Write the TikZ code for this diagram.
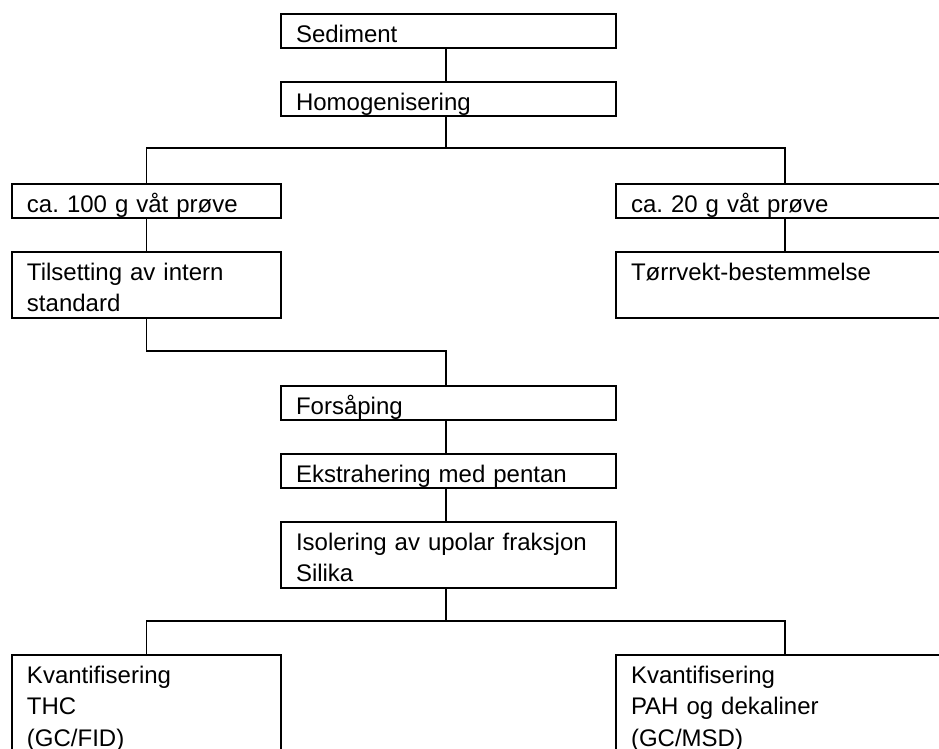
\documentclass[tikz,border=0pt]{standalone}
\usepackage{fontspec}
\setmainfont{Liberation Sans}
\frenchspacing
\begin{document}
\begin{tikzpicture}[x = 1pt, y = -1pt, line width = 1.7pt,
	box/.style = { draw, line width = 2pt, anchor = north west, inner xsep = 15pt, inner ysep = 0pt, align = left, text height = 28pt, text depth = 6pt, font = \fontsize{24}{31.5}\selectfont },
	mid/.style = { box, text width = 305pt },
	side/.style = { box, text width = 239pt },
	wide/.style = { box, text width = 308pt }]
				\clip (0,0) rectangle (939,748);
				\node[mid] (sed) at (280,13) {Sediment};
				\node[mid] (hom) at (280,81) {Homogenisering};
				\node[side] (vp100) at (11,183) {ca. 100 g våt prøve};
				\node[wide] (vp20) at (615,183) {ca. 20 g våt prøve};
				\node[side, text depth = 38pt] (tils) at (11,251) {Tilsetting av intern \\ standard};
				\node[wide, text depth = 38pt] (tv) at (615,251) {Tørrvekt-bestemmelse};
				\node[mid] (fors) at (280,385) {Forsåping};
				\node[mid] (ekstr) at (280,453) {Ekstrahering med pentan};
				\node[mid, text depth = 38pt] (iso) at (280,521) {Isolering av upolar fraksjon \\ Silika};
				\node[side, text depth = 120pt] (thc) at (11,654) {Kvantifisering \\ THC \\ (GC/FID)};
				\node[wide, text depth = 120pt] (pah) at (615,654) {Kvantifisering \\ PAH og dekaliner \\ (GC/MSD)};
				\coordinate (s1) at (446,148);
				\coordinate (s2) at (446,351);
				\coordinate (s3) at (446,621);
				\draw (sed.south -| s1) -- (hom.north -| s1);
				\draw (hom.south -| s1) -- (s1);
				\draw (vp100) |- (s1) -| (vp20);
				\draw (vp100) -- (tils);
				\draw (vp20) -- (tv);
				\draw (tils) |- (s2) -- (fors.north -| s2);
				\draw (fors.south -| s2) -- (ekstr.north -| s2);
				\draw (ekstr.south -| s2) -- (iso.north -| s2);
				\draw (iso.south -| s3) -- (s3);
				\draw (thc) |- (s3) -| (pah);
			\end{tikzpicture}
\end{document}
